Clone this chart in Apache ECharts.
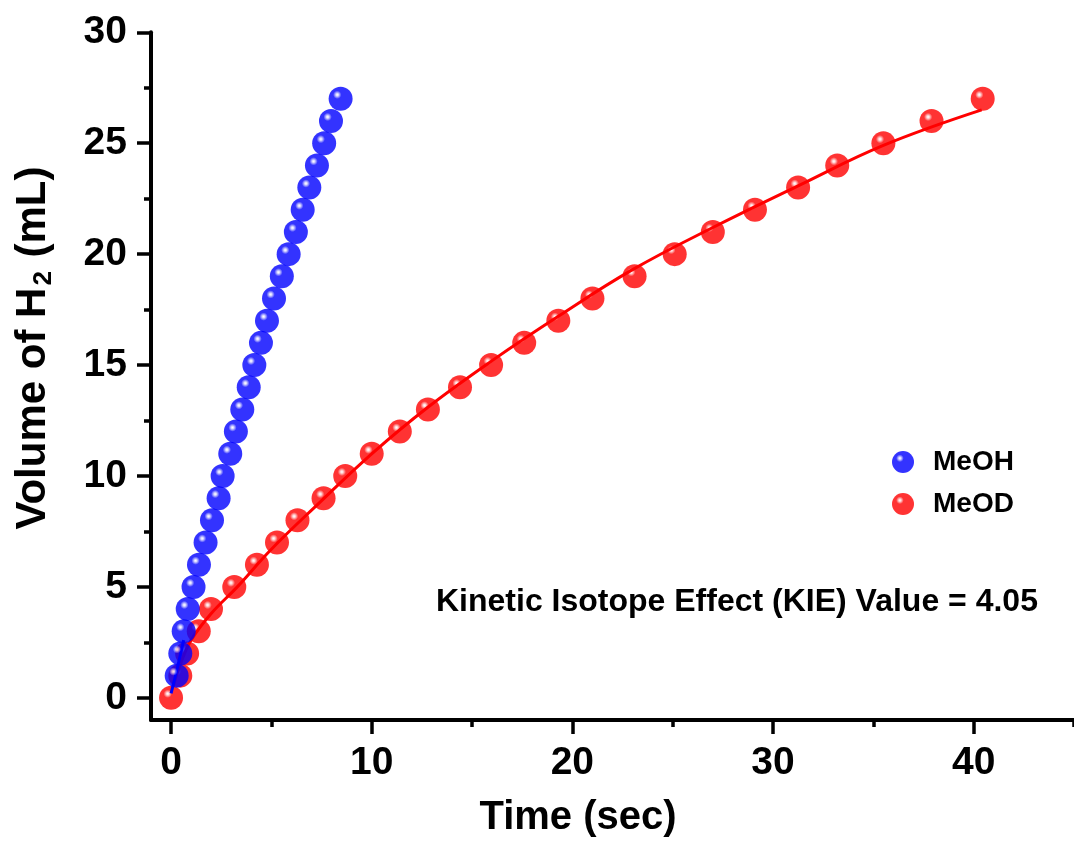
<!DOCTYPE html>
<html>
<head>
<meta charset="utf-8">
<title>Volume of H2 vs Time</title>
<script src="https://cdn.jsdelivr.net/npm/echarts@6/dist/echarts.min.js"></script>
<style>
  html, body { margin: 0; padding: 0; background: #ffffff; }
  #chart { width: 1074px; height: 841px; }
</style>
</head>
<body>
<div id="chart"></div>
<script>
// Measured hydrogen evolution (volume in mL vs time in s)
const meohTime = [0.28, 0.46, 0.63, 0.83, 1.12, 1.39, 1.72, 2.04, 2.37, 2.57, 2.95, 3.23, 3.55, 3.87, 4.15, 4.48, 4.78, 5.13, 5.52, 5.86, 6.22, 6.56, 6.89, 7.27, 7.63, 7.97, 8.45];
const meohVol  = [1, 2, 3, 4, 5, 6, 7, 8, 9, 10, 11, 12, 13, 14, 15, 16, 17, 18, 19, 20, 21, 22, 23, 24, 25, 26, 27];

const meodTime = [0, 0.46, 0.80, 1.38, 1.99, 3.15, 4.28, 5.28, 6.30, 7.60, 8.68, 10.0, 11.4, 12.8, 14.4, 15.95, 17.6, 19.3, 21.0, 23.1, 25.1, 27.0, 29.1, 31.25, 33.2, 35.5, 37.9, 40.45];
const meodVol  = [0, 1, 2, 3, 4, 5, 6, 7, 8, 9, 10, 11, 12, 13, 14, 15, 16, 17, 18, 19, 20, 21, 22, 23, 24, 25, 26, 27];

// Fitted curves (MeOH fit: visible start segment; the rest lies under the markers)
const meohFitTime = [0, 0.3, 0.63];
const meohFitVol  = [0.2, 1.3, 2.6];
const meodFitTime = [0.1, 0.5, 1.0, 2.0, 3.3, 5.0, 7.4, 10.0, 12.8, 16.0, 19.3, 23.0, 27.0, 31.3, 35.5, 40.4];
const meodFitVol  = [0.5, 1.6, 2.6, 3.8, 5.0, 6.7, 8.8, 11.0, 13.1, 15.2, 17.2, 19.3, 21.2, 23.1, 24.9, 26.5];

// Axis ticks
const xMajorTicks = [0, 10, 20, 30, 40];
const xMinorTicks = [5, 15, 25, 35, 45];
const yMajorTicks = [0, 5, 10, 15, 20, 25, 30];
const yMinorTicks = [2.5, 7.5, 12.5, 17.5, 22.5, 27.5];

const seriesNames = ['MeOH', 'MeOD'];
const kieText = 'Kinetic Isotope Effect (KIE) Value = 4.05';

const FONT = '"Liberation Sans", Arial, Helvetica, sans-serif';

function pairs(xs, ys) { return xs.map((x, i) => [x, ys[i]]); }

// Glossy ball fill: small white highlight up-left, saturated body
function sphere(base, light) {
  return {
    type: 'radial', x: 0.36, y: 0.33, r: 0.66,
    colorStops: [
      { offset: 0, color: '#ffffff' },
      { offset: 0.08, color: light },
      { offset: 0.26, color: base },
      { offset: 1, color: base }
    ]
  };
}
const blueBall = sphere('#0000ff', '#d0d0ff');
const redBall = sphere('#ff0000', '#ffd0d0');

const gridBox = { left: 151, top: 32.3, width: 925, height: 687.7 };
const xRange = { min: -1, max: 45 };
const yRange = { min: -1, max: 30 };

const chart = echarts.init(document.getElementById('chart'), null, { renderer: 'canvas' });

chart.setOption({
  backgroundColor: '#ffffff',
  animation: false,
  grid: [
    Object.assign({ containLabel: false }, gridBox),
    Object.assign({ containLabel: false }, gridBox)
  ],
  xAxis: [
    {
      type: 'value', gridIndex: 0, min: xRange.min, max: xRange.max,
      splitLine: { show: false },
      axisLine: { show: true, onZero: false, lineStyle: { color: '#000', width: 4 } },
      axisTick: { show: true, customValues: xMajorTicks, length: 14, lineStyle: { color: '#000', width: 3.5 } },
      axisLabel: { customValues: xMajorTicks, margin: 24, color: '#000', fontSize: 39, fontWeight: 'bold', fontFamily: FONT }
    },
    {
      type: 'value', gridIndex: 1, min: xRange.min, max: xRange.max,
      splitLine: { show: false },
      axisLine: { show: false, onZero: false },
      axisTick: { show: true, customValues: xMinorTicks, length: 7, lineStyle: { color: '#000', width: 3.5 } },
      axisLabel: { show: false }
    }
  ],
  yAxis: [
    {
      type: 'value', gridIndex: 0, min: yRange.min, max: yRange.max,
      splitLine: { show: false },
      axisLine: { show: true, onZero: false, lineStyle: { color: '#000', width: 4 } },
      axisTick: { show: true, customValues: yMajorTicks, length: 14, lineStyle: { color: '#000', width: 3.5 } },
      axisLabel: { customValues: yMajorTicks, margin: 24, color: '#000', fontSize: 39, fontWeight: 'bold', fontFamily: FONT }
    },
    {
      type: 'value', gridIndex: 1, min: yRange.min, max: yRange.max,
      splitLine: { show: false },
      axisLine: { show: false, onZero: false },
      axisTick: { show: true, customValues: yMinorTicks, length: 7, lineStyle: { color: '#000', width: 3.5 } },
      axisLabel: { show: false }
    }
  ],
  legend: {
    data: seriesNames,
    orient: 'vertical',
    left: 887, top: 443,
    icon: 'circle',
    itemWidth: 22, itemHeight: 22, itemGap: 14,
    textStyle: { color: '#000', fontSize: 28, fontWeight: 'bold', fontFamily: FONT, lineHeight: 22, padding: [0, 0, 0, 14] }
  },
  graphic: [
    {
      type: 'text', x: 33, y: 348, rotation: Math.PI / 2,
      style: {
        text: '{a|Volume of H}{s|2}{a| (mL)}',
        align: 'center', verticalAlign: 'middle',
        rich: {
          a: { fontSize: 42, fontWeight: 'bold', fontFamily: FONT, fill: '#000', lineHeight: 48 },
          s: { fontSize: 26, fontWeight: 'bold', fontFamily: FONT, fill: '#000', verticalAlign: 'bottom', lineHeight: 10, padding: [0, 2, 0, 2] }
        }
      }
    },
    {
      type: 'text', x: 578, y: 818,
      style: { text: 'Time (sec)', align: 'center', verticalAlign: 'middle', fontSize: 40, fontWeight: 'bold', fontFamily: FONT, fill: '#000' }
    },
    {
      type: 'text', x: 436, y: 602,
      style: { text: kieText, align: 'left', verticalAlign: 'middle', fontSize: 32, fontWeight: 'bold', fontFamily: FONT, fill: '#000' }
    }
  ],
  series: [
    {
      name: 'MeOD', type: 'scatter', xAxisIndex: 0, yAxisIndex: 0, z: 2,
      data: pairs(meodTime, meodVol), symbol: 'circle', symbolSize: 24, clip: false,
      itemStyle: { color: redBall }
    },
    {
      name: 'MeOD fit', type: 'line', xAxisIndex: 0, yAxisIndex: 0, z: 3,
      data: pairs(meodFitTime, meodFitVol), smooth: 0.4, showSymbol: false, clip: false,
      lineStyle: { color: '#ff0000', width: 3 }
    },
    {
      name: 'MeOH fit', type: 'line', xAxisIndex: 0, yAxisIndex: 0, z: 4,
      data: pairs(meohFitTime, meohFitVol), smooth: 0.4, showSymbol: false, clip: false,
      lineStyle: { color: '#0000ff', width: 3 }
    },
    {
      name: 'MeOH', type: 'scatter', xAxisIndex: 0, yAxisIndex: 0, z: 5,
      data: pairs(meohTime, meohVol), symbol: 'circle', symbolSize: 24, clip: false,
      itemStyle: { color: blueBall }
    }
  ]
});
</script>
</body>
</html>
